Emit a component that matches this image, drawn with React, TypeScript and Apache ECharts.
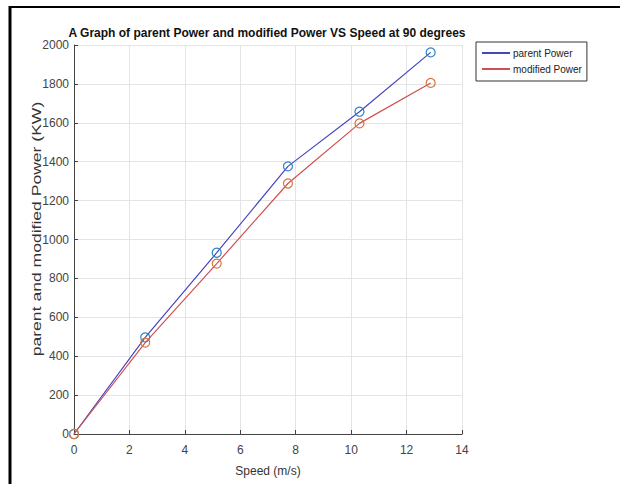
import React, { useEffect, useRef } from "react";
import * as echarts from "echarts";

const speed = [0, 2.57, 5.15, 7.72, 10.3, 12.87];
const parentPower = [0, 497, 932, 1376, 1657, 1962];
const modifiedPower = [0, 470, 876, 1288, 1597, 1805];
const xTicks = [0, 2, 4, 6, 8, 10, 12, 14];
const yTicks = [0, 200, 400, 600, 800, 1000, 1200, 1400, 1600, 1800, 2000];
const seriesNames = ["parent Power", "modified Power"];
const yAxisTitle = "parent and modified Power (KW)";

const SANS = "'Liberation Sans', Arial, sans-serif";

export default function App() {
  const ref = useRef<HTMLDivElement>(null);
  useEffect(() => {
    if (!ref.current) return;
    const chart = echarts.init(ref.current, null, { renderer: "svg" });
    const toPairs = (ys: number[]) => speed.map((x, i) => [x, ys[i]]);
    chart.setOption({
      animation: false,
      backgroundColor: "#ffffff",
      title: {
        text: "A Graph of parent Power and modified Power VS Speed at 90 degrees",
        left: 262,
        textAlign: "center",
        top: 22,
        textStyle: { fontFamily: SANS, fontSize: 12, fontWeight: "bold", color: "#111" },
      },
      legend: {
        orient: "vertical",
        left: 476,
        top: 42,
        padding: [6, 5, 7, 6],
        itemGap: 6,
        itemWidth: 28,
        itemHeight: 2,
        borderColor: "#333",
        borderWidth: 1,
        backgroundColor: "#fff",
        textStyle: { fontFamily: SANS, fontSize: 10, color: "#222", padding: [0, 0, 0, -2] },
        data: [
          { name: seriesNames[0], icon: "rect", itemStyle: { color: "#4646be", borderWidth: 0 } },
          { name: seriesNames[1], icon: "rect", itemStyle: { color: "#d05050", borderWidth: 0 } },
        ],
      },
      grid: { left: 74, right: 158, top: 45, bottom: 50, containLabel: false },
      xAxis: {
        type: "value",
        min: xTicks[0],
        max: xTicks[xTicks.length - 1],
        interval: 2,
        name: "Speed (m/s)",
        nameLocation: "middle",
        nameGap: 31,
        nameTextStyle: { fontFamily: SANS, fontSize: 12, color: "#333" },
        axisLine: { show: true, onZero: false, lineStyle: { color: "#444", width: 1 } },
        axisTick: { show: true, inside: true, length: 4, lineStyle: { color: "#444" } },
        axisLabel: { fontFamily: SANS, fontSize: 12, color: "#444", margin: 10 },
        splitLine: { show: true, lineStyle: { color: "#e4e4e4", width: 1 } },
      },
      yAxis: {
        type: "value",
        min: yTicks[0],
        max: yTicks[yTicks.length - 1],
        interval: 200,
        axisLine: { show: true, lineStyle: { color: "#444", width: 1 } },
        axisTick: { show: true, inside: true, length: 4, lineStyle: { color: "#444" } },
        axisLabel: {
          fontFamily: SANS,
          fontSize: 12,
          color: "#444",
          margin: 5,
          formatter: (v: number) => String(v),
        },
        splitLine: { show: true, lineStyle: { color: "#e4e4e4", width: 1 } },
      },
      series: [
        {
          name: seriesNames[0],
          type: "line",
          data: toPairs(parentPower),
          symbol: "circle",
          symbolSize: 9,
          showSymbol: true,
          lineStyle: { color: "#4646be", width: 1.2 },
          itemStyle: { color: "rgba(0,0,0,0)", borderColor: "#2f86c6", borderWidth: 1.2 },
          emphasis: { disabled: true },
          z: 2,
        },
        {
          name: seriesNames[1],
          type: "line",
          data: toPairs(modifiedPower),
          symbol: "circle",
          symbolSize: 9,
          showSymbol: true,
          lineStyle: { color: "#d05050", width: 1.2 },
          itemStyle: { color: "rgba(0,0,0,0)", borderColor: "#d8773f", borderWidth: 1.2 },
          emphasis: { disabled: true },
          z: 3,
        },
      ],
      graphic: [
        { type: "line", shape: { x1: 10, y1: 6, x2: 10, y2: 484 }, style: { stroke: "#000", lineWidth: 3 } },
        { type: "line", shape: { x1: 9, y1: 7, x2: 620, y2: 7 }, style: { stroke: "#000", lineWidth: 2 } },
        {
          type: "text",
          x: 36,
          y: 229,
          rotation: Math.PI / 2,
          scaleX: 1.35,
          style: {
            text: yAxisTitle,
            fontFamily: SANS,
            fontSize: 13,
            fill: "#333",
            align: "center",
            verticalAlign: "middle",
          },
        },
      ],
    });
    return () => chart.dispose();
  }, []);
  return (
    <div
      ref={ref}
      style={{ position: "fixed", left: 0, top: 0, width: 620, height: 484, background: "#fff" }}
    />
  );
}
